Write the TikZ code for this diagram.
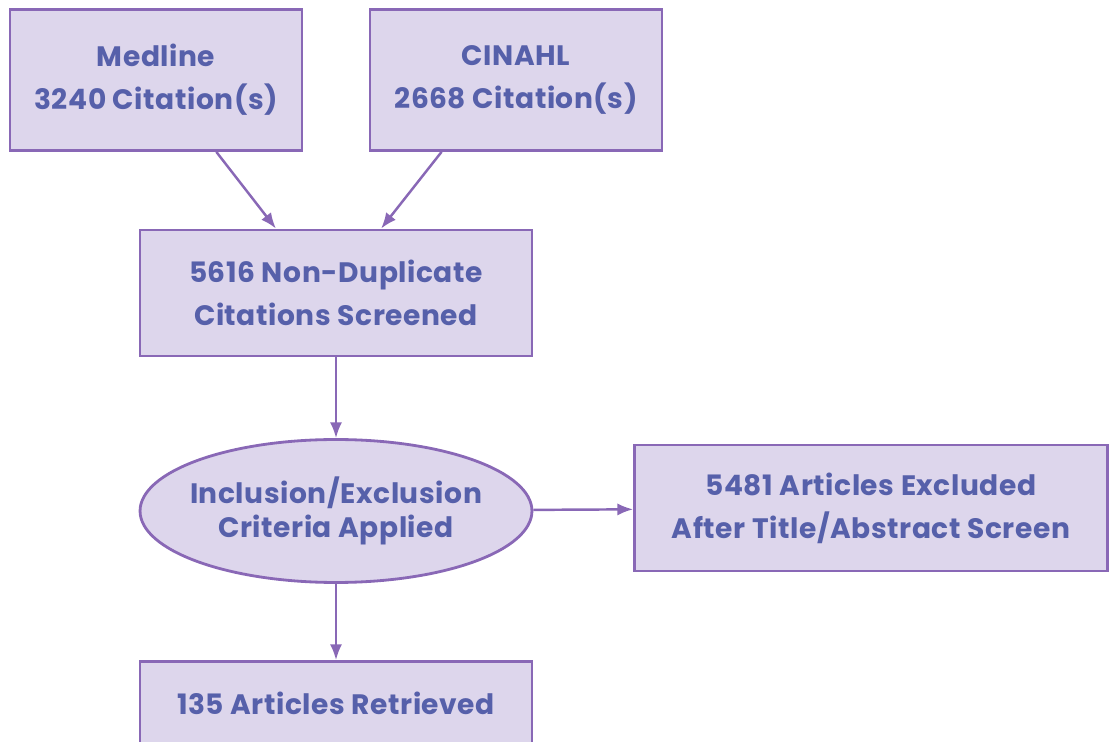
\documentclass[tikz,border=0pt]{standalone}
\usepackage{fontspec}
\setmainfont{Poppins}[LetterSpace=2]
\usetikzlibrary{shapes.geometric, arrows.meta}
\definecolor{boxfill}{RGB}{221,214,236}
\definecolor{boxline}{RGB}{137,104,182}
\definecolor{boxtext}{RGB}{86,96,170}
\begin{document}
\begin{tikzpicture}[x=0.02cm, y=-0.02cm, font=\bfseries\fontsize{16}{24.5}\selectfont,
	every node/.style={draw=boxline, fill=boxfill, text=boxtext, line width=1.6pt, align=center, inner sep=0pt},
	stage/.style={rectangle},
	criteria/.style={ellipse, inner xsep=-0.25cm, font=\bfseries\fontsize{16}{19}\selectfont},
	arr/.style={-{Latex[length=9pt, width=7pt]}, draw=boxline, line width=1.4pt}]
	\useasboundingbox (0,0) rectangle (1109,742);
	
	% Quellen
	\node[stage, minimum width=5.84cm, minimum height=2.82cm] (med) at (156, 80) {Medline\\3240 Citation(s)};
	\node[stage, minimum width=5.84cm, minimum height=2.82cm] (cin) at (516, 80) {CINAHL\\2668 Citation(s)};
	
	% Screening
	\node[stage, minimum width=7.84cm, minimum height=2.52cm] (scr) at (336, 293) {5616 Non-Duplicate\\Citations Screened};
	\node[criteria, minimum width=7.84cm, minimum height=2.86cm] (crit) at (336, 511) {Inclusion/Exclusion\\Criteria Applied};
	\node[stage, minimum width=9.46cm, minimum height=2.52cm] (excl) at (871, 508) {5481 Articles Excluded\\After Title/Abstract Screen};
	
	% Ergebnis
	\node[stage, minimum width=7.84cm, minimum height=1.66cm] (ret) at (336, 703) {135 Articles Retrieved};
	
	\draw[arr] (med.-50) -- (scr.133);
	\draw[arr] (cin.-136) -- (scr.55);
	\draw[arr] (scr) -- (crit);
	\draw[arr] (crit) -- (excl);
	\draw[arr] (crit) -- (ret);
\end{tikzpicture}
\end{document}
